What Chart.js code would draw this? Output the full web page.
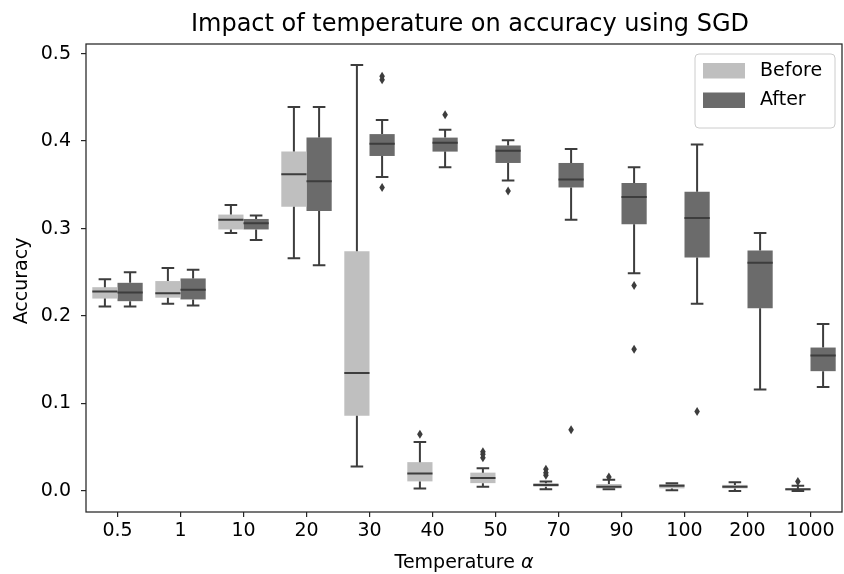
<!DOCTYPE html>
<html>
<head>
<meta charset="utf-8">
<script src="https://cdn.jsdelivr.net/npm/chart.js@4/dist/chart.umd.min.js"></script>
<style>
  body { margin: 0; background: #fff; }
  canvas { display: block; }
</style>
</head>
<body>
<canvas id="chart" width="844" height="574"></canvas>
<script>
// Categories and tick labels
const categories = ['0.5', '1', '10', '20', '30', '40', '50', '70', '90', '100', '200', '1000'];
const yTicks = [0.0, 0.1, 0.2, 0.3, 0.4, 0.5];

// Before: whisker low, Q1, median, Q3, whisker high, fliers
const beforeLow  = [0.211, 0.214, 0.295, 0.266, 0.028, 0.003, 0.005, 0.002, 0.002, 0.001, 0.000, 0.000];
const beforeQ1   = [0.220, 0.221, 0.299, 0.325, 0.086, 0.011, 0.009, 0.005, 0.003, 0.003, 0.003, 0.000];
const beforeMed  = [0.228, 0.226, 0.310, 0.362, 0.135, 0.020, 0.015, 0.007, 0.005, 0.006, 0.005, 0.002];
const beforeQ3   = [0.233, 0.240, 0.316, 0.388, 0.274, 0.033, 0.021, 0.009, 0.008, 0.008, 0.007, 0.003];
const beforeHigh = [0.242, 0.255, 0.327, 0.439, 0.487, 0.056, 0.026, 0.011, 0.013, 0.009, 0.010, 0.006];
const beforeOutliers = [[], [], [], [], [], [0.065], [0.045, 0.042, 0.038], [0.025, 0.021, 0.018], [0.016], [], [], [0.011]];

// After
const afterLow  = [0.211, 0.212, 0.287, 0.258, 0.359, 0.370, 0.355, 0.310, 0.249, 0.214, 0.116, 0.119];
const afterQ1   = [0.217, 0.219, 0.299, 0.320, 0.383, 0.388, 0.375, 0.347, 0.305, 0.267, 0.209, 0.137];
const afterMed  = [0.227, 0.230, 0.306, 0.354, 0.397, 0.398, 0.389, 0.356, 0.336, 0.312, 0.261, 0.155];
const afterQ3   = [0.238, 0.243, 0.311, 0.404, 0.408, 0.404, 0.395, 0.375, 0.352, 0.342, 0.275, 0.164];
const afterHigh = [0.250, 0.253, 0.315, 0.439, 0.424, 0.413, 0.401, 0.391, 0.370, 0.396, 0.295, 0.191];
const afterOutliers = [[], [], [], [], [0.474, 0.470, 0.347], [0.430], [0.343], [0.070], [0.235, 0.162], [0.091], [], []];

const FONT = 'DejaVu Sans';
const LINE = '#3d3d3d';
const AXIS = '#262626';

const stats = [
    { low: beforeLow, med: beforeMed, high: beforeHigh, fliers: beforeOutliers },
    { low: afterLow, med: afterMed, high: afterHigh, fliers: afterOutliers }
];

// whiskers, medians, fliers, frame, titles and legend
const boxExtras = {
    id: 'boxExtras',
    afterDatasetsDraw(chart) {
        const ctx = chart.ctx;
        const y = chart.scales.y;
        ctx.save();
        ctx.strokeStyle = LINE;
        ctx.fillStyle = LINE;
        ctx.lineWidth = 2;
        stats.forEach((s, d) => {
            const meta = chart.getDatasetMeta(d);
            meta.data.forEach((bar, i) => {
                const x = bar.x;
                const w = bar.width;
                const q1 = chart.data.datasets[d].data[i][0];
                const q3 = chart.data.datasets[d].data[i][1];
                ctx.beginPath();
                ctx.moveTo(x, y.getPixelForValue(q3));
                ctx.lineTo(x, y.getPixelForValue(s.high[i]));
                ctx.moveTo(x - w / 4, y.getPixelForValue(s.high[i]));
                ctx.lineTo(x + w / 4, y.getPixelForValue(s.high[i]));
                ctx.moveTo(x, y.getPixelForValue(q1));
                ctx.lineTo(x, y.getPixelForValue(s.low[i]));
                ctx.moveTo(x - w / 4, y.getPixelForValue(s.low[i]));
                ctx.lineTo(x + w / 4, y.getPixelForValue(s.low[i]));
                ctx.moveTo(x - w / 2, y.getPixelForValue(s.med[i]));
                ctx.lineTo(x + w / 2, y.getPixelForValue(s.med[i]));
                ctx.stroke();
                s.fliers[i].forEach(v => {
                    const py = y.getPixelForValue(v);
                    ctx.beginPath();
                    ctx.moveTo(x, py - 4.5);
                    ctx.lineTo(x + 2.8, py);
                    ctx.lineTo(x, py + 4.5);
                    ctx.lineTo(x - 2.8, py);
                    ctx.closePath();
                    ctx.fill();
                });
            });
        });
        ctx.restore();
    },
    afterDraw(chart) {
        const ctx = chart.ctx;
        const a = chart.chartArea;
        ctx.save();
        // frame
        ctx.strokeStyle = AXIS;
        ctx.lineWidth = 1.25;
        ctx.strokeRect(a.left, a.top, a.right - a.left, a.bottom - a.top);

        // title
        ctx.fillStyle = '#000';
        ctx.textAlign = 'center';
        ctx.textBaseline = 'alphabetic';
        ctx.font = '24px "' + FONT + '"';
        ctx.fillText('Impact of temperature on accuracy using SGD', (a.left + a.right) / 2 + 6, 31);

        // x label with italic alpha
        ctx.font = '19px "' + FONT + '"';
        const main = 'Temperature ';
        const mw = ctx.measureText(main).width;
        ctx.font = 'italic 19px "' + FONT + '"';
        const aw = ctx.measureText('α').width;
        const startX = (a.left + a.right) / 2 - (mw + aw) / 2;
        ctx.textAlign = 'left';
        ctx.font = '19px "' + FONT + '"';
        ctx.fillText(main, startX, 568);
        ctx.font = 'italic 19px "' + FONT + '"';
        ctx.fillText('α', startX + mw, 568);

        // y label
        ctx.save();
        ctx.translate(27, (a.top + a.bottom) / 2 + 3);
        ctx.rotate(-Math.PI / 2);
        ctx.textAlign = 'center';
        ctx.font = '19px "' + FONT + '"';
        ctx.fillText('Accuracy', 0, 0);
        ctx.restore();

        // legend
        const lx = 695, ly = 54, lw = 140, lh = 74;
        ctx.beginPath();
        ctx.roundRect(lx, ly, lw, lh, 4);
        ctx.fillStyle = 'rgba(255,255,255,0.8)';
        ctx.fill();
        ctx.strokeStyle = '#cccccc';
        ctx.lineWidth = 1;
        ctx.stroke();
        ctx.font = '19px "' + FONT + '"';
        ctx.textAlign = 'left';
        ctx.textBaseline = 'middle';
        chart.data.datasets.forEach((ds, k) => {
            const ry = 63 + k * 29.5;
            ctx.fillStyle = ds.backgroundColor;
            ctx.fillRect(703, ry, 42, 15.5);
            ctx.fillStyle = '#000';
            ctx.fillText(ds.label, 760, ry + 8);
        });
        ctx.restore();
    }
};

new Chart(document.getElementById('chart'), {
    type: 'bar',
    data: {
        labels: categories,
        datasets: [
            {
                label: 'Before',
                data: beforeQ1.map((v, i) => [v, beforeQ3[i]]),
                backgroundColor: '#bfbfbf'
            },
            {
                label: 'After',
                data: afterQ1.map((v, i) => [v, afterQ3[i]]),
                backgroundColor: '#6b6b6b'
            }
        ]
    },
    options: {
        responsive: false,
        animation: false,
        events: [],
        datasets: {
            bar: { barPercentage: 1.0, categoryPercentage: 0.8, borderWidth: 0 }
        },
        layout: { padding: { top: 44, right: 2, left: 0, bottom: 0 } },
        plugins: {
            legend: { display: false },
            tooltip: { enabled: false },
            title: { display: false }
        },
        scales: {
            x: {
                type: 'category',
                offset: true,
                grid: { drawOnChartArea: false, offset: false, tickLength: 5, color: AXIS, lineWidth: 1.2 },
                border: { display: false },
                ticks: { font: { family: FONT, size: 19 }, color: '#000', padding: 3, maxRotation: 0, autoSkip: false },
                afterFit: s => { s.height = 62; }
            },
            y: {
                min: -0.024,
                max: 0.511,
                grid: { drawOnChartArea: false, tickLength: 5, color: AXIS, lineWidth: 1.2 },
                border: { display: false },
                afterBuildTicks: axis => { axis.ticks = yTicks.map(v => ({ value: v })); },
                ticks: {
                    font: { family: FONT, size: 19 },
                    color: '#000',
                    padding: 10,
                    callback: v => v.toFixed(1)
                },
                afterFit: s => { s.width = 86; }
            }
        }
    },
    plugins: [boxExtras]
});
</script>
</body>
</html>
